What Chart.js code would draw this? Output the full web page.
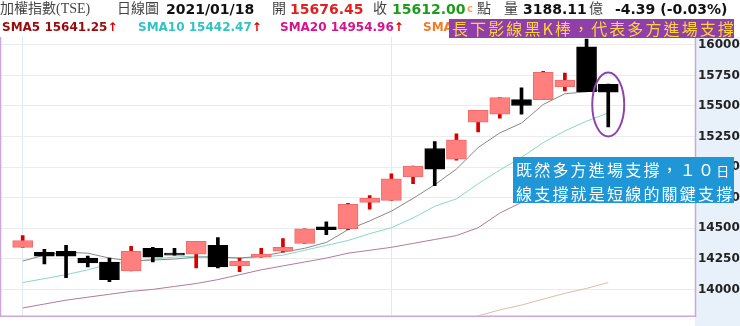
<!DOCTYPE html>
<html>
<head>
<meta charset="utf-8">
<script src="https://cdn.jsdelivr.net/npm/chart.js@4.4.1/dist/chart.umd.min.js"></script>
<style>
  body { margin: 0; background: #fff; }
  #wrap { position: relative; width: 740px; height: 326px; overflow: hidden; }
  #kchart { position: absolute; left: 0; top: 0; }
  .t { position: absolute; white-space: nowrap; line-height: 18px; }
  .cj { font-family: "Liberation Serif", "Noto Sans CJK TC", serif; font-size: 14px; color: #444; top: 0; }
  .n { font-family: "DejaVu Sans", Verdana, sans-serif; font-weight: bold; font-size: 14px; top: 0; color: #111; }
  .ma { font-family: "DejaVu Sans", Verdana, sans-serif; font-weight: bold; font-size: 12px; top: 18px; }
  .up { color: #e00000; }
  #note1 {
    position: absolute; left: 449px; top: 19px; width: 285px; height: 19px;
    background: #8e3fa8; color: #ffd23c; font-family: "Noto Sans CJK TC", serif;
    font-size: 16px; line-height: 19px; letter-spacing: 2.1px; padding-left: 3px; box-sizing: border-box;
    white-space: nowrap; overflow: hidden;
  }
  #note2 {
    position: absolute; left: 513px; top: 157px; width: 221px; height: 46px;
    background: #1f96d6; color: #fff; font-family: "Noto Sans CJK TC", serif;
    font-size: 16px; line-height: 22px; letter-spacing: 2.2px; padding: 1px 0 0 3px; box-sizing: border-box;
    white-space: nowrap;
  }
</style>
</head>
<body>
<div id="wrap">
  <canvas id="kchart" width="740" height="326"></canvas>

  <span class="t cj" style="left:0">加權指數(TSE)</span>
  <span class="t cj" style="left:117px">日線圖</span>
  <span class="t n" style="left:166px">2021/01/18</span>
  <span class="t cj" style="left:272px">開</span>
  <span class="t n" style="left:290px;color:#e32020">15676.45</span>
  <span class="t cj" style="left:373px">收</span>
  <span class="t n" style="left:392px;color:#1c9c1c">15612.00</span>
  <span class="t n" style="left:467px;color:#f5a55a;font-size:10px">c</span>
  <span class="t cj" style="left:477px">點</span>
  <span class="t cj" style="left:504px">量</span>
  <span class="t n" style="left:523px">3188.11</span>
  <span class="t cj" style="left:589px">億</span>
  <span class="t n" style="left:615px">-4.39 (-0.03%)</span>

  <span class="t ma" style="left:2px;color:#9b0a0a">SMA5 15641.25<span class="up">↑</span></span>
  <span class="t ma" style="left:138px;color:#33c3c3">SMA10 15442.47<span class="up">↑</span></span>
  <span class="t ma" style="left:280px;color:#d4148c">SMA20 14954.96<span class="up">↑</span></span>
  <span class="t ma" style="left:423px;color:#f07c28">SMA</span>

  <div id="note1">長下影線黑K棒，代表多方進場支撐</div>
  <div id="note2">既然多方進場支撐，１０<span style="font-size:13px">日</span><br>線支撐就是短線的關鍵支撐</div>
</div>

<script>
// trading days, 2020/12/09 .. 2021/01/18
const dates = ["12/09", "12/10", "12/11", "12/14", "12/15", "12/16", "12/17", "12/18", "12/21", "12/22",
  "12/23", "12/24", "12/25", "12/28", "12/29", "12/30", "12/31", "01/04", "01/05", "01/06",
  "01/07", "01/08", "01/11", "01/12", "01/13", "01/14", "01/15", "01/18"];

const opens = [14344, 14304, 14312, 14256, 14224, 14152, 14336, 14296, 14288, 14360,
  14192, 14264, 14312, 14376, 14512, 14496, 14712, 14728, 14920, 15152,
  15064, 15368, 15432, 15552, 15552, 15656, 15984, 15676.45];
const highs = [14440, 14328, 14360, 14272, 14256, 14352, 14344, 14336, 14392, 14424,
  14256, 14336, 14416, 14496, 14552, 14704, 14768, 14944, 15008, 15208,
  15272, 15464, 15568, 15648, 15784, 15768, 16048, 15680];
const lows = [14344, 14208, 14096, 14184, 14064, 14152, 14224, 14280, 14176, 14176,
  14144, 14264, 14304, 14376, 14448, 14488, 14656, 14728, 14864, 14848,
  15056, 15288, 15400, 15432, 15552, 15624, 15616, 15328];
const closes = [14400, 14272, 14272, 14216, 14080, 14312, 14264, 14280, 14392, 14184,
  14232, 14288, 14344, 14496, 14488, 14696, 14744, 14904, 15008, 14984,
  15224, 15464, 15568, 15504, 15776, 15712, 15616, 15612];

const sma5 = [14232, 14280, 14304, 14296, 14256, 14232, 14240, 14248, 14264, 14264,
  14256, 14272, 14304, 14336, 14384, 14488, 14560, 14640, 14744, 14856,
  14984, 15160, 15280, 15360, 15512, 15600, 15616, 15641.25];
const sma10 = [14056, 14088, 14120, 14160, 14208, 14224, 14248, 14264, 14272, 14264,
  14256, 14264, 14280, 14320, 14360, 14400, 14456, 14504, 14584, 14680,
  14740, 14864, 14976, 15080, 15200, 15296, 15376, 15442.47];
const sma20 = [13848, 13880, 13912, 13936, 13960, 13984, 14000, 14024, 14048, 14080,
  14120, 14160, 14192, 14224, 14256, 14296, 14320, 14344, 14376, 14408,
  14440, 14504, 14624, 14712, 14784, 14848, 14904, 14954.96];
// only the tail of SMA60 reaches into the view
const sma60 = [null, null, null, null, null, null, null, null, null, null,
  null, null, null, null, null, null, null, null, null, null,
  13736, 13784, 13832, 13872, 13920, 13968, 14008, 14056];

const yTicks = [14000, 14250, 14500, 14750, 15000, 15250, 15500, 15750, 16000];

const isUp = closes.map((c, i) => c >= opens[i]);
const pts = (arr) => arr.map((v, i) => ({ x: i, y: v }));

const frame = {
  id: "frame",
  beforeDraw(chart) {
    const { ctx, chartArea: a } = chart;
    ctx.save();
    ctx.fillStyle = "#e8f1fa";
    ctx.fillRect(a.right, a.top, chart.width - a.right, chart.height - a.top);
    ctx.restore();
  },
  afterDatasetsDraw(chart) {
    const { ctx, scales } = chart;
    // circle round the last candle
    const cx = scales.x.getPixelForValue(27);
    const cy = scales.y.getPixelForValue(15512);
    ctx.save();
    ctx.strokeStyle = "#8e44ad";
    ctx.lineWidth = 2;
    ctx.beginPath();
    ctx.ellipse(cx, cy, 16, 32, 0, 0, Math.PI * 2);
    ctx.stroke();
    ctx.restore();
  },
  afterDraw(chart) {
    const { ctx, chartArea: a } = chart;
    ctx.save();
    ctx.strokeStyle = "#cba7dc";
    ctx.lineWidth = 1.5;
    ctx.beginPath();
    ctx.moveTo(a.left - 0.5, a.top);
    ctx.lineTo(a.left - 0.5, a.bottom + 0.5);
    ctx.lineTo(a.right + 0.5, a.bottom + 0.5);
    ctx.lineTo(a.right + 0.5, a.top);
    ctx.stroke();
    ctx.restore();
  },
};

const canvas = document.getElementById("kchart");

new Chart(canvas, {
  type: "bar",
  data: {
    datasets: [
      {
        type: "bar",
        label: "body",
        data: dates.map((d, i) => ({ x: i, y: [opens[i], closes[i]] })),
        backgroundColor: isUp.map((u) => (u ? "#ff7f7f" : "#000000")),
        borderColor: isUp.map((u) => (u ? "#ee6b6b" : "#000000")),
        borderWidth: 1,
        borderSkipped: false,
        barThickness: 20,
        grouped: false,
        order: 0,
      },
      {
        type: "bar",
        label: "wick",
        data: dates.map((d, i) => ({ x: i, y: [lows[i], highs[i]] })),
        backgroundColor: isUp.map((u) => (u ? "#d60000" : "#000000")),
        borderWidth: 0,
        barThickness: 3,
        grouped: false,
        order: 1,
      },
      { type: "line", label: "SMA5", data: pts(sma5), borderColor: "#8d8585", borderWidth: 1, pointRadius: 0, order: 2 },
      { type: "line", label: "SMA10", data: pts(sma10), borderColor: "#86d8c6", borderWidth: 1, pointRadius: 0, order: 3 },
      { type: "line", label: "SMA20", data: pts(sma20), borderColor: "#b47a98", borderWidth: 1, pointRadius: 0, order: 4 },
      { type: "line", label: "SMA60", data: pts(sma60), borderColor: "#dcbf9c", borderWidth: 1, pointRadius: 0, order: 5 },
    ],
  },
  options: {
    responsive: false,
    animation: false,
    layout: { padding: { top: 37, left: 1, right: 0, bottom: 4 } },
    plugins: {
      legend: { display: false },
      tooltip: { enabled: false },
    },
    scales: {
      x: {
        type: "linear",
        min: -1,
        max: 31,
        offset: false,
        afterBuildTicks: (s) => {
          // month-start markers
          s.ticks = [{ value: 0 }, { value: dates.indexOf("01/04") }];
        },
        afterFit: (s) => { s.height = 0; },
        ticks: { display: false },
        grid: { color: "#dfe9f2", drawTicks: false, offset: false },
        border: { display: false },
      },
      y: {
        position: "right",
        min: 13784,
        max: 16064,
        afterBuildTicks: (s) => {
          s.ticks = yTicks.map((v) => ({ value: v }));
        },
        afterFit: (s) => { s.width = 45; },
        ticks: {
          padding: 3,
          color: "#222",
          font: { family: "DejaVu Sans", weight: "bold", size: 12 },
          callback: (v) => String(v),
        },
        grid: { color: "#ececec", drawTicks: false },
        border: { display: false },
      },
    },
  },
  plugins: [frame],
});
</script>
</body>
</html>
